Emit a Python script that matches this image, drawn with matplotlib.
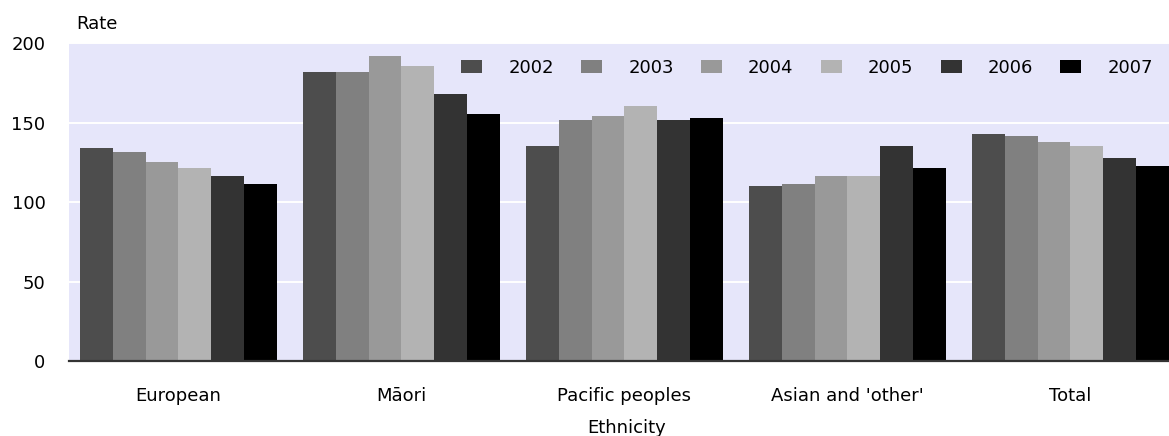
# encoding:utf-8
# Rate by ethnicity, 2002-2007 (grouped bars)

import numpy as np
import matplotlib.pyplot as plt

ethnicities = ["European", "M\u0101ori", "Pacific peoples", "Asian and 'other'", "Total"]
years = ["2002", "2003", "2004", "2005", "2006", "2007"]

rate2002 = [134.4, 181.9, 135.5, 110.2, 143.0]
rate2003 = [131.7, 181.9, 151.9, 111.5, 141.8]
rate2004 = [125.4, 192.0, 154.4, 116.5, 138.0]
rate2005 = [121.6, 185.6, 160.7, 116.5, 135.5]
rate2006 = [116.5, 168.0, 151.9, 135.5, 127.9]
rate2007 = [111.5, 155.4, 153.1, 121.6, 122.8]
rates = [rate2002, rate2003, rate2004, rate2005, rate2006, rate2007]

colors = ["#4d4d4d", "#808080", "#999999", "#b3b3b3", "#333333", "#000000"]

plt.rcParams['font.family'] = ['DejaVu Sans']
fs = 13

fig = plt.figure(figsize=(11.69, 4.36), dpi=100)
# axes run a little past the right edge, like the original picture
ax = fig.add_axes([69 / 1169, 75 / 436, 1115 / 1169, 317.5 / 436])
ax.set_facecolor("#e6e6fa")

x = np.arange(len(ethnicities))
w = 0.879 / 6
for j in range(len(years)):
    ax.bar(x + (j - 2.5) * w, rates[j], width=w, color=colors[j],
           label=years[j], zorder=3)

ax.set_xlim(-0.491, 4.509)
ax.set_ylim(0, 200)
ax.set_yticks([0, 50, 100, 150, 200])
ax.yaxis.grid(True, color="white", linewidth=1.4, zorder=1)
ax.set_axisbelow(True)

ax.set_xticks(x)
ax.set_xticklabels(ethnicities, fontsize=fs)
ax.tick_params(axis="x", length=0, pad=19)
ax.tick_params(axis="y", length=0, pad=17, labelsize=fs)

for s in ["top", "right", "left"]:
    ax.spines[s].set_visible(False)
ax.spines["bottom"].set_color("#333333")
ax.spines["bottom"].set_linewidth(1.6)
ax.spines["bottom"].set_zorder(4)

ax.set_xlabel("Ethnicity", fontsize=fs, labelpad=10)
fig.text(76 / 1169, 1 - 24 / 436, "Rate", fontsize=fs, ha="left", va="center")

ax.legend(ncol=6, frameon=False, fontsize=fs, loc="center left",
          bbox_to_anchor=(461 / 1169, 1 - 67.7 / 436),
          bbox_transform=fig.transFigure, borderpad=0, borderaxespad=0,
          handlelength=1.17, handleheight=0.78, handletextpad=1.45,
          columnspacing=1.5)

plt.savefig("out.png", dpi=100)
